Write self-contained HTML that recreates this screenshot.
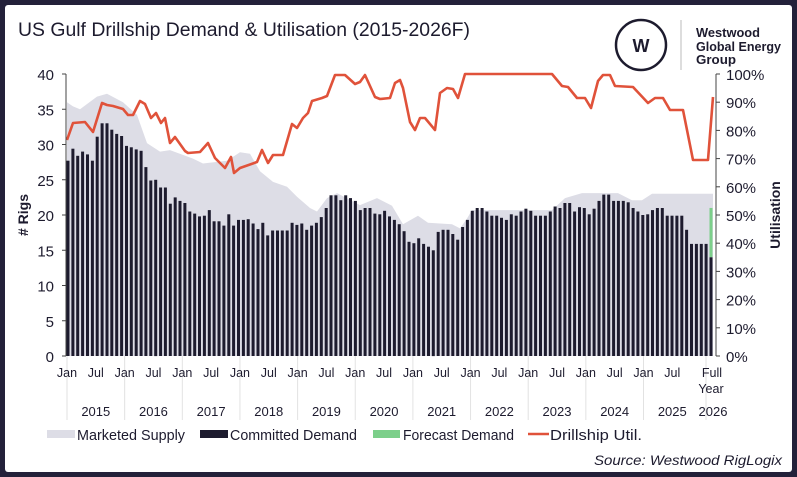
<!DOCTYPE html>
<html><head><meta charset="utf-8"><style>
html,body{margin:0;padding:0;background:#23213a;}
#wrap{position:absolute;left:0;top:0;width:797px;height:477px;background:#23213a;}
#panel{position:absolute;left:5px;top:5px;width:787px;height:467px;background:#fff;border-radius:3px;}
svg{position:absolute;left:0;top:0;}
text{font-family:"Liberation Sans",sans-serif;}
</style></head><body><div id="wrap"><div id="panel"></div>
<svg id="s" width="797" height="477" xmlns="http://www.w3.org/2000/svg">
<text x="18" y="36" font-size="19" fill="#1d1b2e" textLength="452" lengthAdjust="spacingAndGlyphs">US Gulf Drillship Demand &amp; Utilisation (2015-2026F)</text>
<circle cx="641" cy="45" r="25" fill="none" stroke="#1d1b2e" stroke-width="2.5"/>
<text x="641" y="52" font-size="18" font-weight="bold" fill="#1d1b2e" text-anchor="middle" font-family="Liberation Serif">W</text>
<line x1="681" y1="20" x2="681" y2="70" stroke="#bbb" stroke-width="1"/>
<text x="696" y="37" font-size="13" font-weight="bold" fill="#1d1b2e" textLength="64" lengthAdjust="spacingAndGlyphs">Westwood</text>
<text x="696" y="51" font-size="13" font-weight="bold" fill="#1d1b2e" textLength="85" lengthAdjust="spacingAndGlyphs">Global Energy</text>
<text x="696" y="64" font-size="13" font-weight="bold" fill="#1d1b2e" textLength="40" lengthAdjust="spacingAndGlyphs">Group</text>
<g id="g"></g>
</svg></div>
<script>
var D=[27.7,29.4,28.4,29.0,28.6,27.7,31.1,33.0,33.0,32.1,31.5,31.2,29.8,29.6,29.3,29.1,26.8,24.9,25.0,23.9,23.9,21.6,22.5,22.0,21.7,20.5,20.2,19.8,19.9,20.7,19.1,19.1,18.5,20.1,18.5,19.3,19.3,19.4,18.8,18.0,18.9,17.1,17.8,17.8,17.8,17.8,18.9,18.6,18.8,17.9,18.5,18.9,19.7,21.0,22.8,22.8,22.1,22.8,22.4,22.0,20.7,21.0,21.0,20.2,20.1,
20.6,19.8,19.3,18.7,17.7,16.2,16.0,16.7,15.9,15.5,15.0,17.6,17.9,17.9,17.3,16.5,18.3,19.3,20.6,21.0,21.0,20.5,19.9,19.9,19.6,19.3,20.1,19.9,20.5,20.9,20.6,19.9,19.9,19.9,20.5,21.2,21.0,21.7,21.7,20.5,21.1,21.0,20.1,20.9,22.0,22.9,22.9,22.0,22.0,22.0,21.8,21.0,20.5,20.0,20.1,20.7,21.0,21.0,19.9,19.9,19.9,19.9,17.9,15.9,15.9,15.9,15.9,14.0];
var S=[[67,36],[73,35.4],[80,35],[97,36.8],[107,37.2],[123,36],[137,34.2],[147,30.2],[160,29],[170,29.2],[193,28],[203,27.3],[227,27.7],[240,28.9],[250,28.7],[260,26.2],[273,24.7],[287,24],[297,22.6],[310,21],[317,20.5],[327,22.4],[337,23.1],[360,21.4],[377,22.4],[392,21.3],[403,18.7],[418,19.9],[428,18.9],[452,18.7],[460,18.1],[467,19.5],[472,20.7],[552,20.7],[565,22.4],[582,23.1],[618,23.1],[632,22.1],[642,22.1],[652,23],[713,23]];
var U=[[67,140],[73,123],[85,122],[93,132],[102,103],[107,105],[113,106],[123,109],[128,115],[133,115],[140,101],[145,104],[151,118],[156,113],[161,123],[165,118],[170,143],[175,137],[185,151],[188,153],[200,152],[208,143],[215,158],[225,168],[231,157],[234,173],[240,168],[257,162],[262,150],[268,163],[273,155],[283,155],[292,124],[297,128],[303,118],[308,113],[312,101],[322,98],[327,96],[335,75],[345,75],[355,84],[360,82],[365,75],[375,97],[380,99],[390,98],[395,83],[400,80],[403,88],[410,122],[415,130],[420,118],[425,118],[435,130],[440,93],[447,88],[453,89],[458,98],[465,74],[552,74],[562,86],[568,87],[577,98],[585,98],[591,108],[598,81],[603,75],[610,75],[615,86],[633,87],[648,103],[655,98],[663,98],[670,110],[683,110],[693,160],[708,160],[713,97]];
function Y(v){return 356-v*7.05;}
var h='';
var p='M67,356';S.forEach(function(a){p+=' L'+a[0]+','+Y(a[1]).toFixed(1);});p+=' L713,356Z';
h+='<path d="'+p+'" fill="#dddde6"/>';
var n=D.length,pitch=(711-68)/(n-1);
for(var i=0;i<n;i++){var x=68+i*pitch;
 if(i==n-1){h+='<rect x="'+(x-1.5)+'" y="'+Y(21)+'" width="3" height="'+(21-14)*7.05+'" fill="#7ccf8a"/>';}
 h+='<rect x="'+(x-1.5).toFixed(1)+'" y="'+Y(D[i]).toFixed(1)+'" width="3" height="'+(D[i]*7.05).toFixed(1)+'" fill="#1d1b2e"/>';}
var q='';U.forEach(function(a,k){q+=(k?' L':'M')+a[0]+','+a[1];});
h+='<path d="'+q+'" fill="none" stroke="#e0523a" stroke-width="2.6" stroke-linejoin="round"/>';
h+='<line x1="66" y1="74" x2="66" y2="356" stroke="#444" stroke-width="1"/>';
h+='<line x1="716" y1="74" x2="716" y2="356" stroke="#444" stroke-width="1"/>';
for(var t=0;t<=8;t++){var y=356-t*35.25;
 h+='<line x1="62" y1="'+y+'" x2="66" y2="'+y+'" stroke="#444"/>';
 h+='<text x="54" y="'+(y+6)+'" font-size="15" text-anchor="end" fill="#1d1b2e">'+(t*5)+'</text>';}
for(var t=0;t<=10;t++){var y=356-t*28.2;
 h+='<line x1="716" y1="'+y+'" x2="720" y2="'+y+'" stroke="#444"/>';
 h+='<text x="726" y="'+(y+6)+'" font-size="15" fill="#1d1b2e">'+(t*10)+'%</text>';}
h+='<text transform="translate(28,215) rotate(-90)" font-size="14" font-weight="bold" text-anchor="middle" fill="#1d1b2e"># Rigs</text>';
h+='<text transform="translate(780,215) rotate(-90)" font-size="14" font-weight="bold" text-anchor="middle" fill="#1d1b2e">Utilisation</text>';
var yrs=['2015','2016','2017','2018','2019','2020','2021','2022','2023','2024','2025'];
for(var k=0;k<11;k++){var x=67+k*57.65;
 h+='<line x1="'+x+'" y1="356" x2="'+x+'" y2="420" stroke="#e2e2e2"/>';
 h+='<text x="'+x+'" y="377" font-size="12.5" text-anchor="middle" fill="#1d1b2e">Jan</text>';
 h+='<text x="'+(x+28.8)+'" y="377" font-size="12.5" text-anchor="middle" fill="#1d1b2e">Jul</text>';
 h+='<text x="'+(x+28.8)+'" y="416" font-size="13" text-anchor="middle" fill="#1d1b2e">'+yrs[k]+'</text>';}
h+='<line x1="706" y1="356" x2="706" y2="420" stroke="#e2e2e2"/>';
h+='<text x="712" y="377" font-size="12.5" text-anchor="middle" fill="#1d1b2e">Full</text>';
h+='<text x="711" y="393" font-size="12.5" text-anchor="middle" fill="#1d1b2e">Year</text>';
h+='<text x="713" y="416" font-size="13" text-anchor="middle" fill="#1d1b2e">2026</text>';
h+='<rect x="47" y="430" width="28" height="8" fill="#dddde6"/><text x="77" y="440" font-size="15" fill="#1d1b2e" textLength="108" lengthAdjust="spacingAndGlyphs">Marketed Supply</text>';
h+='<rect x="200" y="430" width="28" height="8" fill="#1d1b2e"/><text x="230" y="440" font-size="15" fill="#1d1b2e" textLength="127" lengthAdjust="spacingAndGlyphs">Committed Demand</text>';
h+='<rect x="373" y="430" width="27" height="8" fill="#7ccf8a"/><text x="403" y="440" font-size="15" fill="#1d1b2e" textLength="111" lengthAdjust="spacingAndGlyphs">Forecast Demand</text>';
h+='<line x1="528" y1="434" x2="549" y2="434" stroke="#e0523a" stroke-width="2.6"/><text x="550" y="440" font-size="15" fill="#1d1b2e" textLength="92" lengthAdjust="spacingAndGlyphs">Drillship Util.</text>';
h+='<text x="782" y="465" font-size="14" font-style="italic" text-anchor="end" fill="#1d1b2e" textLength="188" lengthAdjust="spacingAndGlyphs">Source: Westwood RigLogix</text>';
document.getElementById('g').innerHTML=h;
</script></body></html>
